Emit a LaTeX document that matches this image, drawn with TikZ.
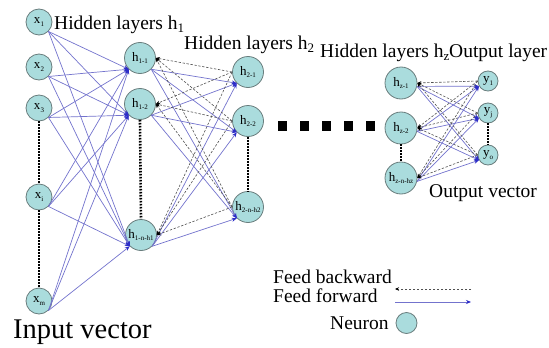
\documentclass[tikz,border=0pt]{standalone}
\usepackage{fontspec}
\setmainfont{Liberation Serif}
\usetikzlibrary{arrows.meta}

\definecolor{cellfill}{RGB}{170,220,221}
\definecolor{celldraw}{RGB}{105,125,125}
\definecolor{fwd}{RGB}{115,115,205}
\definecolor{fwdtip}{RGB}{45,45,200}
\definecolor{bwd}{RGB}{80,80,80}

% neuron label: letter with a small lowered index
\newcommand\nsub[2]{#1\raisebox{-0.45ex}{\fontsize{7}{7}\selectfont #2}}
% title text: letter with a lowered index
\newcommand\tsub[2]{#1\raisebox{-0.4ex}{\fontsize{13}{13}\selectfont #2}}

\begin{document}
\begin{tikzpicture}[x=1pt,y=-1pt,
  neuron/.style={circle, fill=cellfill, draw=celldraw, line width=0.8pt,
    inner sep=0pt, minimum size=#1, font=\fontsize{13}{13}\selectfont},
  neuron/.default=26pt,
  fwdarrow/.style={draw=fwd, line width=0.7pt,
    -{Stealth[length=5pt,width=4pt,color=fwdtip]}},
  bwdarrow/.style={draw=bwd, line width=0.6pt, dash pattern=on 2.4pt off 1.6pt,
    -{Stealth[length=4pt,width=3.5pt,color=black]}},
  gapdots/.style={draw=black, line width=2.6pt, dash pattern=on 1.6pt off 1.4pt},
  title/.style={anchor=base west, inner sep=0pt, font=\fontsize{19.5}{19.5}\selectfont},
  blob/.style={fill=black, inner sep=0pt, minimum width=9pt, minimum height=10pt}
]
\useasboundingbox (0,0) rectangle (549,348);

% input layer
\node[neuron] (x1) at (39,22)  {\nsub{x}{1}};
\node[neuron] (x2) at (39,67)  {\nsub{x}{2}};
\node[neuron] (x3) at (39,108) {\nsub{x}{3}};
\node[neuron] (xi) at (39,197) {\nsub{x}{i}};
\node[neuron] (xm) at (39,301) {\nsub{x}{m}};

% first hidden layer
\node[neuron=31pt] (h11) at (140,58)  {\nsub{h}{1-1}};
\node[neuron=31pt] (h12) at (140,104) {\nsub{h}{1-2}};
\node[neuron=31pt] (h1n) at (141,235) {\nsub{h}{1-n-h1}};

% second hidden layer
\node[neuron=31pt] (h21) at (248,72)  {\nsub{h}{2-1}};
\node[neuron=31pt] (h22) at (248,121) {\nsub{h}{2-2}};
\node[neuron=31pt] (h2n) at (248,207) {\nsub{h}{2-n-h2}};

% last hidden layer
\node[neuron=32pt] (hz1) at (401,83)  {\nsub{h}{z-1}};
\node[neuron=32pt] (hz2) at (401,128) {\nsub{h}{z-2}};
\node[neuron=32pt] (hzn) at (401,178) {\nsub{h}{z-n-hz}};

% output layer
\node[neuron=20pt] (y1) at (488,81)  {\nsub{y}{1}};
\node[neuron=20pt] (yj) at (488,113) {\nsub{y}{j}};
\node[neuron=20pt] (yo) at (488,155) {\nsub{y}{o}};

% elided neurons
\draw[gapdots] (x3.south) -- (xi.north);
\draw[gapdots] (xi.south) -- (xm.north);
\draw[gapdots] (h12.south) -- (h1n.north);
\draw[gapdots] (h22.south) -- (h2n.north);
\draw[gapdots] (hz2.south) -- (hzn.north);
\draw[gapdots] (yj.south) -- (yo.north);

% elided layers
\node[blob] (sq1) at (282.5,125.5) {};
\node[blob] (sq2) at (304,125.5) {};
\node[blob] (sq3) at (326,125.5) {};
\node[blob] (sq4) at (348,125.5) {};
\node[blob] (sq5) at (370,125.5) {};

% feed forward connections
\foreach \s in {x1,x2,x3,xi,xm}
  \foreach \t in {h11,h12,h1n}
    \draw[fwdarrow] (\s.south east) -- (\t.south west);
\foreach \s in {h11,h12,h1n}
  \foreach \t in {h21,h22,h2n}
    \draw[fwdarrow] (\s.south east) -- (\t.south west);
\foreach \s in {hz1,hz2,hzn}
  \foreach \t in {y1,yj,yo}
    \draw[fwdarrow] (\s.-12) -- (\t.210);

% feed backward connections
\foreach \s in {h21,h22,h2n}
  \foreach \t in {h11,h12,h1n}
    \draw[bwdarrow] (\s.west) -- (\t.east);
\foreach \s in {y1,yj,yo}
  \foreach \t in {hz1,hz2,hzn}
    \draw[bwdarrow] (\s.west) -- (\t.east);

% layer titles
\node[title] (t1) at (54,29)  {Hidden layers \tsub{h}{1}};
\node[title] (t2) at (184,49) {Hidden layers \tsub{h}{2}};
\node[title] (tz) at (320,57) {Hidden layers \tsub{h}{z}};
\node[title] (to) at (449,57) {Output layer};
\node[title] (ov) at (429,197) {Output vector};
\node[title, font=\fontsize{28.5}{28.5}\selectfont] (iv) at (13,338) {Input vector};

% legend
\node[title] (lb) at (273,283) {Feed backward};
\node[title] (lf) at (273,302) {Feed forward};
\node[title] (ln) at (330,329) {Neuron};
\coordinate (bkA) at (471,289);
\coordinate (bkB) at (395,289);
\coordinate (fwA) at (395,302);
\coordinate (fwB) at (471,302);
\draw[bwdarrow] (bkA) -- (bkB);
\draw[fwdarrow] (fwA) -- (fwB);
\node[neuron=21pt] (nleg) at (406.5,323) {};
\end{tikzpicture}
\end{document}
